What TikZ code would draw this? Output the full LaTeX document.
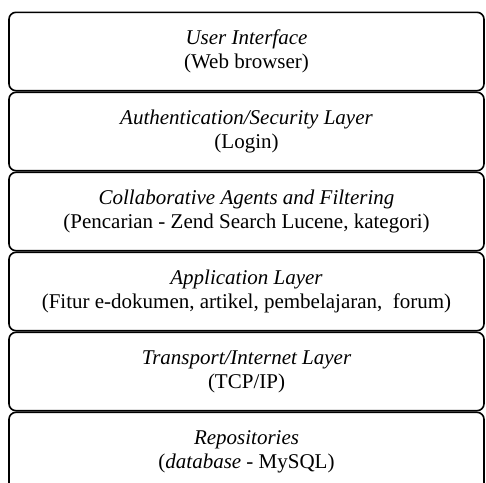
\documentclass[tikz,border=0pt]{standalone}
\usepackage{fontspec}
\setmainfont{Liberation Serif}
\usetikzlibrary{positioning}
\begin{document}
\begin{tikzpicture}[x=1pt,y=1pt]
  \tikzset{layer box/.style={draw,line width=1.6pt,rounded corners=7pt,minimum width=475pt,minimum height=78.4pt,align=center,font=\fontsize{21}{24}\selectfont}}
  \useasboundingbox (0,0) rectangle (486,-482);

  \node [layer box] (ui) at (246.5,-51.5) {\textit{User Interface}\\(Web browser)};
  \node [layer box,below=0pt of ui] (auth) {\textit{Authentication/Security Layer}\\(Login)};
  \node [layer box,below=0pt of auth] (agents) {\textit{Collaborative Agents and Filtering}\\(Pencarian - Zend Search Lucene, kategori)};
  \node [layer box,below=0pt of agents] (app) {\textit{Application Layer}\\(Fitur e-dokumen, artikel, pembelajaran,\ \ forum)};
  \node [layer box,below=0pt of app] (transport) {\textit{Transport/Internet Layer}\\(TCP/IP)};
  \node [layer box,below=0pt of transport] (repo) {\textit{Repositories}\\(\textit{database} - MySQL)};
\end{tikzpicture}
\end{document}
